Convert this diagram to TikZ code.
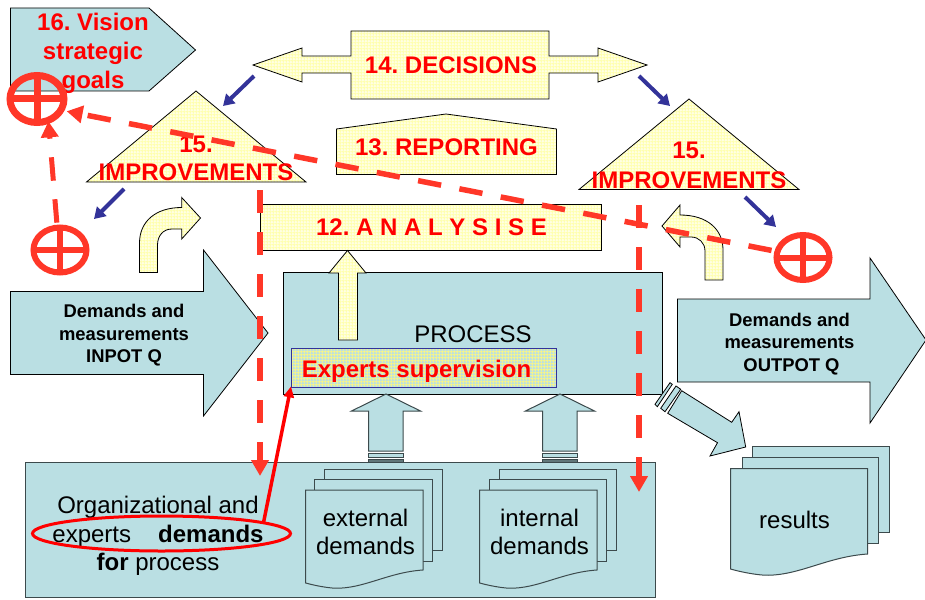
\documentclass[tikz,border=0pt]{standalone}
\usepackage{fontspec}
\setmainfont{Liberation Sans}
\usetikzlibrary{arrows.meta,shapes.geometric,patterns}
\definecolor{paleblue}{HTML}{BADFE3}
\definecolor{paleyellow}{HTML}{FFFFE4}
\definecolor{gridyellow}{HTML}{FFFFB0}
\definecolor{mixgrid}{HTML}{F4F48C}
\definecolor{dashred}{HTML}{FF3728}
\definecolor{navyarrow}{HTML}{333399}
\definecolor{edgegrey}{HTML}{3C4A4C}
\pgfdeclarepatternformonly{finegrid}{\pgfpointorigin}{\pgfqpoint{2.8pt}{2.8pt}}{\pgfqpoint{2.8pt}{2.8pt}}{%
  \pgfsetlinewidth{1pt}%
  \pgfpathmoveto{\pgfqpoint{0pt}{1.4pt}}\pgfpathlineto{\pgfqpoint{2.8pt}{1.4pt}}%
  \pgfpathmoveto{\pgfqpoint{1.4pt}{0pt}}\pgfpathlineto{\pgfqpoint{1.4pt}{2.8pt}}%
  \pgfusepath{stroke}}
\tikzset{
  bluefill/.style={fill=paleblue,draw=black,line width=0.8pt,line join=miter},
  softblue/.style={fill=paleblue,draw=edgegrey,line width=1pt},
  yellowfill/.style={draw=black,line width=0.8pt,preaction={fill=paleyellow},preaction={pattern=finegrid,pattern color=gridyellow}},
  bigred/.style={inner sep=0pt,text=red,align=center,font=\fontsize{24}{29}\selectfont\bfseries},
  bigblack/.style={inner sep=0pt,text=black,align=center,font=\fontsize{24}{28.5}\selectfont},
  smallbold/.style={inner sep=0pt,text=black,align=center,font=\fontsize{18.4}{22.4}\selectfont\bfseries},
  targetring/.style={ellipse,draw=dashred,inner sep=0pt,outer sep=0pt,fill=none},
  crossbar/.style={draw=dashred,line width=6pt},
  reddash/.style={draw=dashred,line width=5.5pt,dash pattern=on 23.5pt off 18.6pt,-{Triangle[length=16pt,width=17pt]}},
  bluearrow/.style={draw=navyarrow,line width=4pt,-{Triangle[length=11pt,width=13pt]}}
}
\newcommand{\docpage}[4]{%
  \pgfmathsetmacro{\docw}{#2-(#1)}%
  \draw[softblue] (#2,#4) .. controls ({#2-0.30*\docw},{#4+0.02*\docw}) and ({#1+0.50*\docw},{#4+0.16*\docw}) .. ({#1+0.25*\docw},{#4+0.155*\docw})
     .. controls ({#1+0.17*\docw},{#4+0.15*\docw}) and ({#1+0.07*\docw},{#4+0.13*\docw}) .. (#1,{#4+0.11*\docw}) -- (#1,#3) -- (#2,#3) -- cycle;}
\newcommand{\upstub}[1]{%
  \draw[softblue] (#1,394) -- ({#1+34.5},411) -- ({#1+17},411) -- ({#1+17},451) -- ({#1-17.5},451) -- ({#1-17.5},411) -- ({#1-34.5},411) -- cycle;
  \draw[draw=edgegrey,line width=0.9pt,fill=paleblue] ({#1-17.5},453.5) rectangle ({#1+17},457.5);
  \draw[draw=edgegrey,line width=0.9pt,fill=edgegrey!70!paleblue] ({#1-17.5},459) rectangle ({#1+17},462.5);}
\frenchspacing
\begin{document}
\begin{tikzpicture}[x=1pt,y=-1pt]
\useasboundingbox (0,0) rectangle (925,599);
% vision
\draw[bluefill] (10.5,8) -- (149,8) -- (195.5,50) -- (149,91) -- (10.5,91) -- cycle;
\node[bigred] (vision) at (93,53.5) {16. Vision\\strategic\\goals};
% decisions
\draw[yellowfill] (253,65) -- (302,48) -- (302,56) -- (351,56) -- (351,31) -- (549,31) -- (549,56) -- (598,56) -- (598,48) -- (647,65) -- (598,82) -- (598,73) -- (549,73) -- (549,99) -- (351,99) -- (351,73) -- (302,73) -- (302,82) -- cycle;
\node[bigred,anchor=base] (decisions) at (451,74) {14. DECISIONS};
% reporting
\draw[yellowfill] (336.5,129) -- (446,114) -- (556.5,129) -- (556.5,174.5) -- (336.5,174.5) -- cycle;
\node[bigred,anchor=base] (reporting) at (446.5,155) {13. REPORTING};
% analysis
\draw[yellowfill] (260.5,204.5) rectangle (601.5,250);
\node[bigred,anchor=base] (analysis) at (431.5,235) {12. A N A L Y S I S E};
% triangles
\draw[yellowfill] (196,91) -- (306,182) -- (86.5,182) -- cycle;
\node[bigred] (improveL) at (196,158.2) {15.\\[-1pt]IMPROVEMENTS};
\draw[yellowfill] (689,99) -- (799,189.5) -- (579,189.5) -- cycle;
\node[bigred] (improveR) at (689,165.2) {15.\\[1pt]IMPROVEMENTS};
% curved arrows
\draw[yellowfill] (139.5,272.5) -- (139.5,243) .. controls (139.5,222) and (155,207.5) .. (181.7,207.5) -- (181.7,197.5) -- (200.5,218) -- (181.7,239) -- (181.7,229) -- (172,229) .. controls (163,229) and (157.5,236) .. (157.5,245) -- (157.5,272.5) -- cycle;
\draw[yellowfill] (723,280) -- (723,250) .. controls (723,229) and (707,215) .. (680,215) -- (680,205) -- (662,226) -- (680,247) -- (680,237) -- (691,237) .. controls (699,237) and (705,243) .. (705,251) -- (705,280) -- cycle;
% input / output arrows
\draw[bluefill] (10.5,291.5) -- (203.5,291.5) -- (203.5,250) -- (268,333) -- (203.5,416) -- (203.5,374.5) -- (10.5,374.5) -- cycle;
\node[smallbold] (inpot) at (124,335.2) {Demands and\\measurements\\INPOT Q};
\draw[bluefill] (677.5,299) -- (870,299) -- (870,258) -- (926,340) -- (870,423) -- (870,382) -- (677.5,382) -- cycle;
\node[smallbold] (outpot) at (789.5,343.8) {Demands and\\measurements\\\hspace{4pt}OUTPOT Q};
% process
\node[draw=black,line width=0.9pt,fill=paleblue,outer sep=0pt,minimum width=379pt,minimum height=121.5pt,inner sep=0pt,anchor=north west] (process) at (283.5,272.5) {};
\node[bigblack,anchor=base] (processlabel) at (473,342) {PROCESS};
\node[draw=navyarrow,line width=0.7pt,outer sep=0pt,preaction={fill=paleblue},preaction={pattern=finegrid,pattern color=mixgrid},minimum width=265pt,minimum height=38.5pt,inner sep=0pt,anchor=north west] (experts) at (291,348.5) {};
\node[bigred,anchor=base] (expertslabel) at (416.5,377) {Experts supervision};
% small up arrow
\draw[yellowfill] (347.5,250.5) -- (366,273) -- (357.5,273) -- (357.5,340) -- (338.5,340) -- (338.5,273) -- (329,273) -- cycle;
% bottom box
\node[draw=edgegrey,line width=1pt,fill=paleblue,outer sep=0pt,minimum width=630pt,minimum height=135.5pt,inner sep=0pt,anchor=north west] (orgbox) at (25.3,462) {};
\upstub{386}
\upstub{560}
% external docs
\draw[softblue] (324.5,469) rectangle (442.7,550);
\draw[softblue] (314.7,479.5) rectangle (432.5,561);
\docpage{305.5}{423}{490}{570}
\node[bigblack,font=\fontsize{24}{28}\selectfont] (external) at (365.5,532) {external\hspace{7pt}\\demands};
% internal docs
\draw[softblue] (499,469) rectangle (616.5,550);
\draw[softblue] (489,479.5) rectangle (606,561);
\docpage{479.5}{597}{490}{570}
\node[bigblack,font=\fontsize{24}{28}\selectfont] (internal) at (539.5,532) {internal\hspace{7pt}\\demands};
% org text
\node[bigblack] (orgtext) at (158,536) {Organizational and\\experts\hspace{27pt}\textbf{demands}\\\textbf{for} process};
% results
\draw[draw=black,line width=0.8pt,fill=paleblue] (670,382.7) -- (672.3,384.3) -- (657.3,406.7) -- (655,404.3) -- cycle;
\draw[draw=black,line width=0.8pt,fill=paleblue] (676,386) -- (680.7,389.3) -- (665,411.7) -- (660.7,408.3) -- cycle;
\draw[bluefill] (681.7,390.7) -- (731.7,422.3) -- (739,411.7) -- (745.7,447) -- (710,456) -- (717.5,442.7) -- (667.7,413.3) -- cycle;
\draw[softblue] (752.7,446.7) rectangle (889.7,532.7);
\draw[softblue] (742,457.7) rectangle (878,543);
\docpage{730.7}{867.7}{468.7}{554}
\node[bigblack,anchor=base] (results) at (794.5,528) {results};
% targets
\node[targetring,line width=7pt,minimum width=54pt,minimum height=47pt] (ringA) at (37,99) {};
\draw[crossbar,line width=7pt] (ringA.west) -- (ringA.east);
\draw[crossbar,line width=7pt] (ringA.north) -- (ringA.south);
\node[targetring,line width=6pt,minimum width=53pt,minimum height=45pt] (ringB) at (60,250) {};
\draw[crossbar] (ringB.west) -- (ringB.east);
\draw[crossbar] (ringB.north) -- (ringB.south);
\node[targetring,line width=6pt,minimum width=53pt,minimum height=45pt] (ringC) at (803,257.5) {};
\draw[crossbar] (ringC.west) -- (ringC.east);
\draw[crossbar] (ringC.north) -- (ringC.south);
% blue arrows
\coordinate (decL) at (254,76); \coordinate (triLtop) at (223,106);
\coordinate (triLout) at (124,189); \coordinate (ringBin) at (94,219);
\coordinate (decR) at (639,76); \coordinate (triRtop) at (670,106);
\coordinate (triRout) at (745,197); \coordinate (ringCin) at (776,227);
\draw[bluearrow] (decL) -- (triLtop);
\draw[bluearrow] (triLout) -- (ringBin);
\draw[bluearrow] (decR) -- (triRtop);
\draw[bluearrow] (triRout) -- (ringCin);
% red dashed
\coordinate (triLfoot) at (260,190); \coordinate (orgL) at (260,476);
\coordinate (triRfoot) at (639,205); \coordinate (orgR) at (639,492);
\draw[reddash,dash pattern=on 23pt off 19pt] (triLfoot) -- (orgL);
\draw[reddash,dash pattern=on 23pt off 19pt] (triRfoot) -- (orgR);
\draw[reddash,shorten >=6pt,shorten <=6pt] (ringC.167) -- (ringA.-25);
\draw[reddash,line width=5pt,shorten <=5pt,shorten >=1pt] (ringB.97) -- (ringA.-62);
% oval and red arrow
\node[ellipse,draw=red,line width=3pt,minimum width=258pt,minimum height=35pt,inner sep=0pt,outer sep=0pt] (oval) at (161.5,533.5) {};
\draw[draw=red,line width=3.5pt,-{Triangle[length=11pt,width=10pt]}] (oval.6.5) -- (experts.188.86);
\end{tikzpicture}
\end{document}
